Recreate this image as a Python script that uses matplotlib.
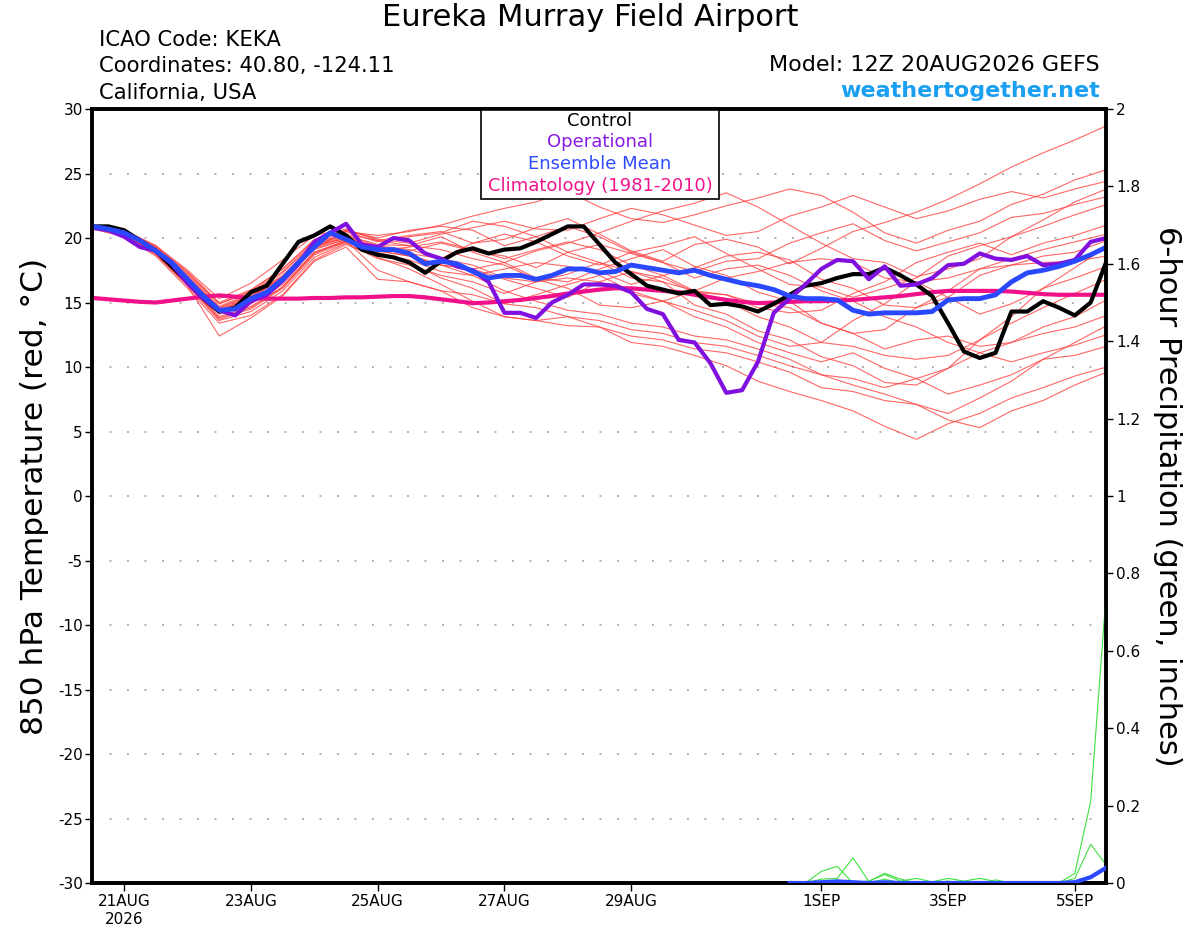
import numpy as np
import pandas as pd
import matplotlib
matplotlib.use('Agg')
import matplotlib.pyplot as plt
from matplotlib.patches import Rectangle
from matplotlib.ticker import FuncFormatter

# ---------------- data ----------------
times = pd.date_range('2026-08-20 12:00', periods=65, freq='6h')
times12 = times[::2]
ptimes = times[44:]

control = [20.9, 20.9, 20.6, 19.8, 19.0, 17.8, 16.6, 15.3, 14.3, 14.6, 15.8, 16.3, 18.0, 19.7, 20.2, 20.9,
           20.2, 19.1, 18.7, 18.5, 18.1, 17.3, 18.2, 18.9, 19.2, 18.8, 19.1, 19.2, 19.7, 20.3, 20.9, 20.9,
           19.5, 18.1, 17.2, 16.3, 16.0, 15.7, 15.9, 14.8, 14.9, 14.7, 14.3, 14.9, 15.6, 16.3, 16.5, 16.9,
           17.2, 17.2, 17.7, 17.1, 16.4, 15.5, 13.4, 11.2, 10.7, 11.1, 14.3, 14.3, 15.1, 14.6, 14.0, 15.0, 18.2]

operational = [20.8, 20.6, 20.1, 19.3, 19.0, 18.0, 16.5, 15.3, 14.4, 14.0, 15.1, 15.6, 16.7, 18.0, 19.7, 20.4,
               21.1, 19.5, 19.3, 20.0, 19.8, 18.8, 18.4, 17.8, 17.5, 16.6, 14.2, 14.2, 13.8, 15.0, 15.6, 16.4,
               16.4, 16.3, 15.8, 14.5, 14.1, 12.1, 11.9, 10.3, 8.0, 8.2, 10.4, 14.2, 15.3, 16.4, 17.6, 18.3,
               18.2, 16.8, 17.8, 16.3, 16.4, 16.9, 17.9, 18.0, 18.8, 18.4, 18.3, 18.6, 17.9, 18.0, 18.3, 19.7, 20.0]

ens_mean = [20.9, 20.7, 20.4, 19.8, 19.0, 18.1, 16.8, 15.5, 14.4, 14.5, 15.3, 15.8, 16.8, 18.1, 19.3, 20.4,
            19.9, 19.3, 19.1, 19.1, 18.8, 18.0, 18.2, 18.0, 17.4, 16.9, 17.1, 17.1, 16.8, 17.1, 17.6, 17.6,
            17.3, 17.4, 17.9, 17.7, 17.5, 17.3, 17.5, 17.1, 16.8, 16.5, 16.3, 16.0, 15.5, 15.3, 15.3, 15.2,
            14.4, 14.1, 14.2, 14.2, 14.2, 14.3, 15.2, 15.3, 15.3, 15.6, 16.6, 17.3, 17.5, 17.8, 18.2, 18.7, 19.3]

climatology = [15.35, 15.25, 15.15, 15.05, 15.0, 15.15, 15.3, 15.45, 15.55, 15.45, 15.35, 15.3, 15.3, 15.3,
               15.35, 15.35, 15.4, 15.4, 15.45, 15.5, 15.5, 15.4, 15.25, 15.1, 14.95, 15.0, 15.1, 15.2, 15.35,
               15.5, 15.7, 15.85, 16.0, 16.1, 16.1, 16.0, 15.9, 15.8, 15.6, 15.4, 15.2, 15.05, 14.95, 15.0,
               15.05, 15.1, 15.1, 15.15, 15.2, 15.3, 15.4, 15.5, 15.65, 15.8, 15.9, 15.9, 15.9, 15.9, 15.85,
               15.75, 15.65, 15.6, 15.6, 15.6, 15.6]

# ensemble members, 12-hourly
m01 = [20.9, 20.5, 19.2, 17.0, 14.6, 15.5, 17.0, 19.5, 20.3, 19.8, 20.2, 20.5, 19.6, 19.9, 20.8, 21.5, 20.3,
       19.0, 18.2, 19.5, 19.9, 19.3, 18.0, 19.2, 20.5, 21.2, 22.0, 23.0, 24.2, 25.5, 26.6, 27.6, 28.7]
m02 = [20.8, 20.4, 19.0, 16.8, 14.2, 15.0, 16.6, 19.2, 20.5, 20.2, 20.5, 21.0, 21.7, 22.3, 22.8, 23.6, 22.4,
       21.5, 21.2, 21.8, 22.5, 23.1, 23.8, 23.3, 22.0, 20.4, 19.6, 20.6, 21.3, 22.6, 23.4, 24.5, 25.3]
m03 = [20.9, 20.6, 19.4, 17.4, 15.0, 16.0, 17.6, 19.8, 20.6, 19.9, 19.6, 20.3, 20.8, 21.3, 20.7, 20.6, 21.5,
       22.3, 21.8, 21.0, 20.2, 20.5, 21.7, 22.4, 23.3, 22.4, 21.5, 22.1, 23.0, 23.6, 23.1, 23.8, 24.4]
m04 = [20.8, 20.3, 18.8, 16.4, 13.8, 14.6, 16.2, 18.8, 19.8, 19.0, 18.6, 17.9, 17.6, 18.1, 19.0, 19.6, 20.4,
       21.3, 22.1, 22.7, 23.5, 22.4, 21.0, 19.6, 18.4, 18.1, 17.0, 17.6, 18.4, 20.1, 21.4, 22.8, 23.8]
m05 = [21.0, 20.5, 19.1, 16.9, 14.5, 15.4, 17.0, 19.4, 20.1, 19.3, 19.0, 19.6, 19.0, 18.6, 17.7, 18.9, 19.5,
       18.8, 18.1, 17.4, 18.2, 18.4, 19.6, 20.4, 21.1, 19.8, 19.0, 19.7, 20.4, 21.6, 21.9, 22.6, 23.2]
m06 = [20.9, 20.4, 19.0, 16.7, 14.3, 15.2, 16.7, 19.2, 19.9, 19.2, 18.8, 18.4, 19.6, 20.3, 19.7, 18.6, 17.9,
       18.9, 19.4, 20.1, 18.8, 17.6, 16.4, 16.2, 15.4, 16.1, 16.9, 18.6, 19.4, 20.1, 20.9, 21.8, 22.6]
m07 = [20.7, 20.2, 18.7, 16.3, 13.6, 14.3, 15.9, 18.5, 19.6, 18.4, 17.9, 17.1, 16.6, 15.7, 16.6, 17.2, 18.1,
       17.4, 16.9, 15.8, 15.6, 14.6, 14.2, 14.4, 15.7, 16.6, 18.1, 18.9, 19.6, 18.7, 19.6, 20.2, 21.0]
m08 = [20.9, 20.5, 19.3, 17.3, 14.9, 15.8, 17.4, 19.7, 20.2, 19.5, 19.4, 20.1, 18.9, 18.1, 16.9, 16.6, 17.6,
       18.4, 19.1, 17.8, 17.1, 15.8, 15.1, 13.4, 12.6, 12.9, 14.6, 15.9, 17.6, 18.4, 19.1, 19.7, 20.3]
m09 = [20.8, 20.3, 18.9, 16.6, 14.1, 14.9, 16.4, 18.9, 19.7, 18.8, 18.3, 17.4, 17.1, 17.6, 18.1, 17.8, 17.4,
       16.4, 17.1, 17.7, 18.6, 18.9, 18.3, 16.8, 16.1, 14.8, 14.6, 15.4, 17.1, 17.9, 18.6, 18.9, 19.8]
m10 = [20.9, 20.5, 19.1, 16.9, 14.4, 15.3, 16.9, 19.4, 20.0, 19.2, 18.7, 17.9, 17.6, 16.8, 16.1, 15.4, 16.6,
       17.4, 16.6, 14.8, 14.1, 12.8, 12.1, 10.8, 10.1, 8.8, 8.6, 9.9, 12.1, 13.9, 16.1, 17.7, 19.3]
m11 = [21.0, 20.6, 19.4, 17.5, 15.3, 16.5, 18.3, 20.2, 20.7, 19.8, 19.4, 19.1, 18.4, 17.9, 16.8, 16.1, 14.8,
       14.6, 15.1, 15.9, 16.9, 17.4, 18.1, 18.4, 18.1, 16.9, 16.6, 16.9, 17.6, 17.9, 18.1, 18.2, 18.6]
m12 = [20.8, 20.4, 18.9, 16.5, 13.9, 14.7, 16.2, 18.9, 19.8, 17.5, 16.6, 15.9, 15.6, 14.9, 15.6, 16.4, 17.1,
       15.9, 15.1, 14.4, 13.6, 12.4, 11.6, 11.9, 13.6, 14.9, 16.6, 15.4, 14.1, 14.9, 16.1, 16.9, 17.8]
m13 = [20.9, 20.4, 19.0, 16.8, 14.4, 15.4, 17.0, 19.3, 20.0, 19.0, 19.3, 19.7, 19.1, 18.4, 19.1, 19.7, 19.1,
       17.9, 17.1, 15.9, 15.1, 13.9, 13.1, 11.9, 11.6, 10.9, 10.6, 10.9, 12.1, 13.4, 14.6, 15.7, 16.8]
m14 = [20.8, 20.3, 18.8, 16.4, 13.7, 14.5, 16.1, 18.7, 19.7, 18.9, 18.1, 16.9, 16.1, 14.9, 14.6, 13.9, 13.6,
       12.9, 12.6, 11.9, 11.6, 10.9, 10.1, 9.4, 9.1, 8.4, 9.1, 9.9, 11.1, 11.9, 13.1, 13.9, 15.2]
m15 = [21.0, 20.5, 19.2, 17.1, 14.7, 15.7, 17.3, 19.6, 20.5, 19.7, 20.1, 20.4, 21.3, 20.9, 20.1, 18.9, 18.1,
       16.9, 16.6, 15.9, 15.6, 14.9, 14.6, 13.4, 12.6, 11.4, 12.1, 12.4, 11.6, 11.9, 12.6, 13.1, 14.0]
m16 = [20.7, 20.1, 18.6, 16.1, 13.4, 14.0, 15.6, 18.3, 19.5, 18.5, 17.6, 16.4, 15.1, 13.9, 13.6, 13.2, 13.1,
       12.4, 12.1, 11.4, 11.1, 10.4, 9.6, 8.4, 8.1, 7.4, 7.1, 6.4, 7.6, 8.9, 10.6, 11.9, 13.2]
m17 = [20.9, 20.5, 19.1, 16.9, 14.6, 15.6, 17.1, 19.5, 20.2, 19.4, 19.1, 18.4, 17.9, 16.9, 16.6, 16.9, 16.6,
       15.7, 15.1, 13.9, 13.1, 11.9, 11.1, 10.4, 11.1, 9.9, 9.1, 7.9, 8.6, 9.4, 10.6, 10.9, 11.6]
m18 = [20.8, 20.3, 18.8, 16.3, 12.4, 13.8, 15.5, 18.2, 19.3, 16.8, 16.6, 15.9, 14.6, 13.9, 13.6, 13.9, 13.1,
       11.9, 11.6, 10.9, 10.1, 8.9, 8.1, 7.4, 6.6, 5.4, 4.4, 5.6, 6.4, 7.6, 8.4, 9.3, 10.0]
m19 = [20.9, 20.4, 19.0, 16.7, 14.2, 15.1, 16.6, 19.1, 19.9, 19.0, 18.6, 17.9, 17.1, 15.9, 15.1, 14.4, 14.1,
       13.4, 13.1, 12.4, 12.1, 11.4, 10.6, 9.4, 8.6, 7.9, 7.1, 5.9, 5.3, 6.6, 7.4, 8.6, 9.6]
m20 = [21.0, 20.6, 19.3, 17.2, 14.9, 15.9, 17.6, 19.9, 20.6, 20.0, 20.6, 20.9, 20.6, 19.4, 20.1, 20.9, 20.1,
       18.9, 18.1, 16.9, 17.6, 17.9, 17.1, 15.9, 15.1, 13.9, 13.1, 11.9, 11.1, 10.4, 11.1, 11.7, 12.5]
members = [m01, m02, m03, m04, m05, m06, m07, m08, m09, m10,
           m11, m12, m13, m14, m15, m16, m17, m18, m19, m20]

# 6-hour precipitation (inches), from 31AUG 18Z onwards
precip_a = [0.0, 0.0, 0.03, 0.043, 0.0, 0.005, 0.022, 0.005, 0.012, 0.003, 0.012,
            0.005, 0.012, 0.004, 0.0, 0.003, 0.0, 0.0, 0.025, 0.21, 0.76]
precip_b = [0.0, 0.0, 0.01, 0.012, 0.065, 0.004, 0.025, 0.01, 0.0, 0.0, 0.0,
            0.0, 0.0, 0.0, 0.0, 0.0, 0.0, 0.0, 0.012, 0.10, 0.045]
precip_c = [0.0, 0.0, 0.0, 0.008, 0.0, 0.0, 0.01, 0.0, 0.0, 0.0, 0.005,
            0.0, 0.0, 0.008, 0.0, 0.0, 0.0, 0.0, 0.0, 0.0, 0.0]
precip_mean = [0.0, 0.0, 0.002, 0.004, 0.002, 0.0, 0.002, 0.0, 0.0, 0.0, 0.0,
               0.0, 0.0, 0.0, 0.0, 0.0, 0.0, 0.0, 0.002, 0.015, 0.04]
precip_ctrl = [0.0] * 21

tick_dates = pd.to_datetime(['2026-08-21', '2026-08-23', '2026-08-25', '2026-08-27',
                             '2026-08-29', '2026-09-01', '2026-09-03', '2026-09-05'])
tick_labels = ['21AUG\n2026', '23AUG', '25AUG', '27AUG', '29AUG', '1SEP', '3SEP', '5SEP']
temp_ticks = [-30, -25, -20, -15, -10, -5, 0, 5, 10, 15, 20, 25, 30]
precip_ticks = [0, 0.2, 0.4, 0.6, 0.8, 1.0, 1.2, 1.4, 1.6, 1.8, 2.0]

# ---------------- figure ----------------
plt.rcParams['font.family'] = ['DejaVu Sans']
plt.rcParams['axes.unicode_minus'] = False
fig = plt.figure(figsize=(12, 9.27), dpi=100)
ax = fig.add_axes([0.07708, 0.04746, 0.845, 0.83495])

for m in members:
    ax.plot(times12, m, color='#ff4040', lw=0.8, alpha=0.8, zorder=2)
ax.plot(times, climatology, color='#f0108a', lw=3, zorder=3)
ax.plot(times, control, color='black', lw=3, zorder=4)
ax.plot(times, operational, color='#8010e0', lw=3, zorder=5)
ax.plot(times, ens_mean, color='#2a48ff', lw=3.5, zorder=6)

ax.set_xlim(times[0], times[-1])
ax.set_ylim(-30, 30)
ax.set_yticks(temp_ticks)
ax.set_xticks(tick_dates)
ax.set_xticklabels(tick_labels)
ax.yaxis.grid(True, linestyle=(0, (1, 8)), color='#b0b0b0', lw=1.4)
ax.tick_params(axis='y', direction='out', length=5, width=1, labelsize=11, pad=2)
ax.tick_params(axis='x', direction='out', length=6, width=1, labelsize=11, pad=2)
for s in ax.spines.values():
    s.set_linewidth(2.6)

# legend box
ax.add_patch(Rectangle((0.3828, 0.8837), 0.2353, 0.1163, transform=ax.transAxes,
                       facecolor='white', edgecolor='black', lw=1.2, zorder=10, clip_on=False))
leg = [('Control', 'black', 0.9849), ('Operational', '#8a1ae6', 0.957),
       ('Ensemble Mean', '#2e4bff', 0.9286), ('Climatology (1981-2010)', '#f0148c', 0.9005)]
for txt, col, yy in leg:
    ax.text(0.5004, yy, txt, color=col, fontsize=13, ha='center', va='center',
            transform=ax.transAxes, zorder=11)

# precipitation axis
ax2 = ax.twinx()
ax2.plot(ptimes, precip_c, color='#40e040', lw=0.8, zorder=2)
ax2.plot(ptimes, precip_b, color='#40e040', lw=0.8, zorder=2)
ax2.plot(ptimes, precip_a, color='#40e040', lw=0.8, zorder=2)
ax2.plot(ptimes, precip_ctrl, color='black', lw=2.5, zorder=3)
ax2.plot(ptimes, precip_mean, color='#2a48ff', lw=3, zorder=4)
ax2.set_ylim(0, 2)
ax2.set_xlim(times[0], times[-1])
ax2.set_yticks(precip_ticks)
ax2.yaxis.set_major_formatter(FuncFormatter(lambda v, p: '%g' % v))
ax2.tick_params(axis='y', direction='out', length=5, width=1, labelsize=11, pad=2)
for s in ax2.spines.values():
    s.set_linewidth(2.6)

# texts
fig.text(0.4917, 0.9806, 'Eureka Murray Field Airport', fontsize=22, ha='center', va='center')
fig.text(0.0825, 0.9504, 'ICAO Code: KEKA', fontsize=15.2, ha='left', va='baseline')
fig.text(0.0825, 0.9223, 'Coordinates: 40.80, -124.11', fontsize=15.2, ha='left', va='baseline')
fig.text(0.0825, 0.8932, 'California, USA', fontsize=15.2, ha='left', va='baseline')
fig.text(0.9167, 0.9237, 'Model: 12Z 20AUG2026 GEFS', fontsize=16, ha='right', va='baseline')
fig.text(0.9167, 0.895, 'weathertogether.net', fontsize=16, fontweight='bold',
         color='#1a9ff2', ha='right', va='baseline')
fig.text(0.029, 0.465, '850 hPa Temperature (red, °C)', fontsize=22.5, rotation=90,
         ha='center', va='center')
fig.text(0.973, 0.465, '6-hour Precipitation (green, inches)', fontsize=22, rotation=270,
         ha='center', va='center')

fig.savefig('out.png', dpi=100)
